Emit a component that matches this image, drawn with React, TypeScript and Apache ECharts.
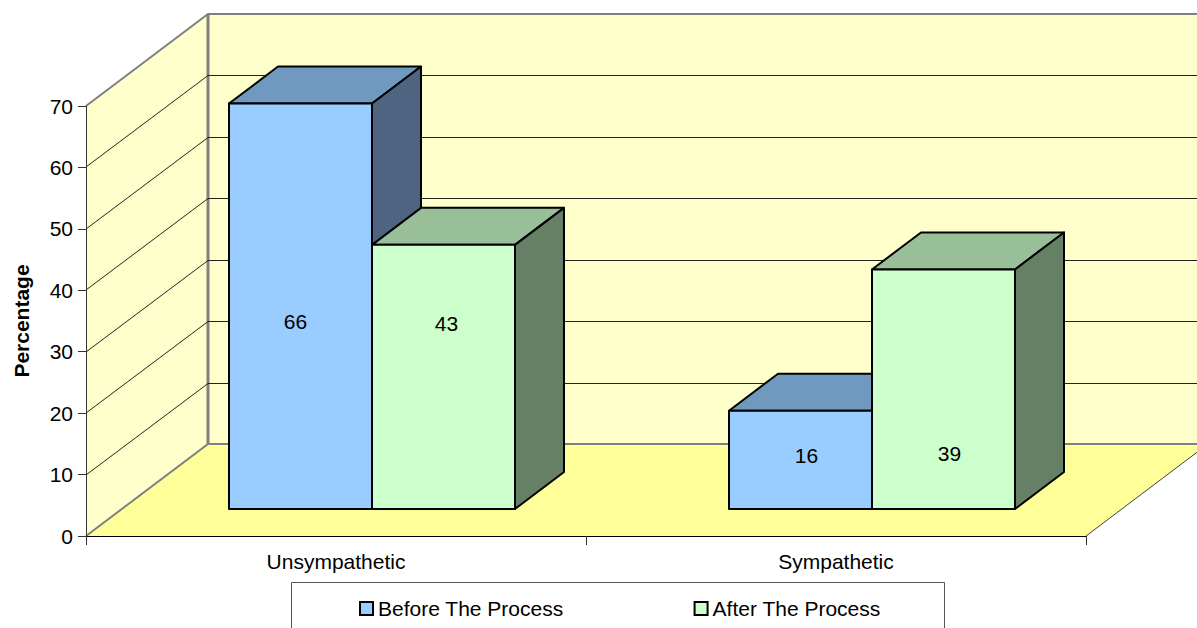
import React, { useEffect, useRef } from "react";
import * as echarts from "echarts";

const categories = ["Unsympathetic", "Sympathetic"];
const beforeValues = [66, 16];
const afterValues = [43, 39];
const gridValues = [10, 20, 30, 40, 50, 60];
const seriesNames = ["Before The Process", "After The Process"];

const FONT = '"Liberation Sans", Arial, sans-serif';
const FS = 21;
const WALL_DX = 122, WALL_DY = -92;
const FRONT_DX = 36, FRONT_DY = -27;
const BAR_W = 143, BAR_DX = 49, BAR_DY = -37;
const GRAY = "#808080";

// label offset from the centre of each bar's front face, in px
const beforeLabelOffset = [[-5, 15], [6, -4]];
const afterLabelOffset = [[3, -53], [6, 64]];

function wallRender(params: any) {
  const { x, y, width, height } = params.coordSys;
  const b = y + height;
  const lineStyle = { stroke: GRAY, lineWidth: 2, fill: "none" };
  return {
    type: "group",
    children: [
      { type: "polygon", shape: { points: [[x + WALL_DX, y + WALL_DY], [x + width + WALL_DX, y + WALL_DY], [x + width + WALL_DX, b + WALL_DY], [x + WALL_DX, b + WALL_DY]] }, style: { fill: "#FFFFCC" } },
      { type: "polygon", shape: { points: [[x, y], [x + WALL_DX, y + WALL_DY], [x + WALL_DX, b + WALL_DY], [x, b]] }, style: { fill: "#FFFFCC" } },
      { type: "polygon", shape: { points: [[x, b], [x + width, b], [x + width + WALL_DX, b + WALL_DY], [x + WALL_DX, b + WALL_DY]] }, style: { fill: "#FFFF99" } },
      { type: "polyline", shape: { points: [[x, y], [x + WALL_DX, y + WALL_DY], [x + width + WALL_DX, y + WALL_DY]] }, style: lineStyle },
      { type: "polyline", shape: { points: [[x, b], [x + WALL_DX, b + WALL_DY], [x + width + WALL_DX, b + WALL_DY]] }, style: lineStyle },
      { type: "line", shape: { x1: x + WALL_DX, y1: y + WALL_DY, x2: x + WALL_DX, y2: b + WALL_DY }, style: { stroke: GRAY, lineWidth: 3 } },
      { type: "line", shape: { x1: x + width, y1: b, x2: x + width + WALL_DX, y2: b + WALL_DY }, style: { stroke: "#404040", lineWidth: 1 } },
    ],
  };
}

function gridRender(params: any, api: any) {
  const { x, width } = params.coordSys;
  const y = Math.round(api.coord([0, api.value(1)])[1]);
  return {
    type: "polyline",
    shape: { points: [[x, y], [x + WALL_DX, y + WALL_DY + 0.5], [x + width + WALL_DX, y + WALL_DY + 0.5]] },
    style: { stroke: "#222", lineWidth: 1, fill: "none" },
  };
}

function barRender(side: number, front: string, top: string, right: string, offsets: number[][]) {
  return (_params: any, api: any) => {
    const i = api.value(0);
    const v = api.value(1);
    const [cx, yv] = api.coord([i, v]);
    const [, y0] = api.coord([i, 0]);
    const l = cx + FRONT_DX + (side === 0 ? -BAR_W : 0);
    const r = l + BAR_W;
    const t = yv + FRONT_DY;
    const b = y0 + FRONT_DY;
    const stroke = { stroke: "#000", lineWidth: 2, lineJoin: "round" };
    return {
      type: "group",
      children: [
        { type: "polygon", shape: { points: [[l, t], [r, t], [r + BAR_DX, t + BAR_DY], [l + BAR_DX, t + BAR_DY]] }, style: { fill: top, ...stroke } },
        { type: "polygon", shape: { points: [[r, t], [r + BAR_DX, t + BAR_DY], [r + BAR_DX, b + BAR_DY], [r, b]] }, style: { fill: right, ...stroke } },
        { type: "rect", shape: { x: l, y: t, width: BAR_W, height: b - t }, style: { fill: front, ...stroke } },
        {
          type: "text",
          x: (l + r) / 2 + offsets[i][0],
          y: (t + b) / 2 + offsets[i][1],
          style: { text: String(v), fill: "#000", font: `${FS}px ${FONT}`, align: "center", verticalAlign: "middle" },
        },
      ],
    };
  };
}

export default function App() {
  const ref = useRef<HTMLDivElement>(null);
  useEffect(() => {
    const chart = echarts.init(ref.current!, undefined, { renderer: "svg" });
    chart.setOption({
      animation: false,
      backgroundColor: "#fff",
      textStyle: { fontFamily: FONT },
      grid: { left: 86, right: 111, top: 106, bottom: 92 },
      xAxis: {
        type: "category",
        data: categories,
        axisLine: { show: true, onZero: false, lineStyle: { color: "#000", width: 1 } },
        axisTick: { show: true, length: 9, lineStyle: { color: "#333", width: 1 } },
        axisLabel: { color: "#000", fontSize: FS, fontFamily: FONT, margin: 15 },
      },
      yAxis: {
        type: "value",
        min: 0,
        max: 70,
        interval: 10,
        name: "Percentage",
        nameLocation: "middle",
        nameGap: 54,
        nameTextStyle: { color: "#000", fontSize: 21, fontWeight: "bold", fontFamily: FONT },
        axisLine: { show: true, onZero: false, lineStyle: { color: "#333", width: 1 } },
        axisTick: { show: true, length: 8, lineStyle: { color: "#333", width: 1 } },
        axisLabel: { color: "#000", fontSize: FS, fontFamily: FONT, margin: 13 },
        splitLine: { show: false },
      },
      legend: {
        data: seriesNames,
        left: 359,
        top: 598,
        padding: 0,
        itemWidth: 13,
        itemHeight: 13,
        itemGap: 130,
        icon: "rect",
        textStyle: { color: "#000", fontSize: FS, fontFamily: FONT },
        selectedMode: false,
      },
      graphic: [
        { type: "rect", z: 1, shape: { x: 291.5, y: 582.5, width: 653, height: 80 }, style: { fill: "#fff", stroke: "#555", lineWidth: 1 } },
      ],
      series: [
        { type: "custom", name: "walls", z: -2, silent: true, renderItem: wallRender, data: [[0, 0]], encode: { x: 0, y: 1 } },
        { type: "custom", name: "gridlines", z: -1, silent: true, renderItem: gridRender, data: gridValues.map((v) => [0, v]), encode: { x: 0, y: 1 } },
        {
          type: "custom", name: seriesNames[0], z: 3,
          itemStyle: { color: "#99CCFF", borderColor: "#000", borderWidth: 2 },
          renderItem: barRender(0, "#99CCFF", "#7099BF", "#4F6480", beforeLabelOffset),
          data: beforeValues.map((v, i) => [i, v]), encode: { x: 0, y: 1 },
        },
        {
          type: "custom", name: seriesNames[1], z: 4,
          itemStyle: { color: "#CCFFCC", borderColor: "#000", borderWidth: 2 },
          renderItem: barRender(1, "#CCFFCC", "#99BF99", "#668066", afterLabelOffset),
          data: afterValues.map((v, i) => [i, v]), encode: { x: 0, y: 1 },
        },
      ],
    });
    return () => chart.dispose();
  }, []);
  return <div ref={ref} style={{ position: "fixed", left: 0, top: 0, width: 1197, height: 628 }} />;
}
